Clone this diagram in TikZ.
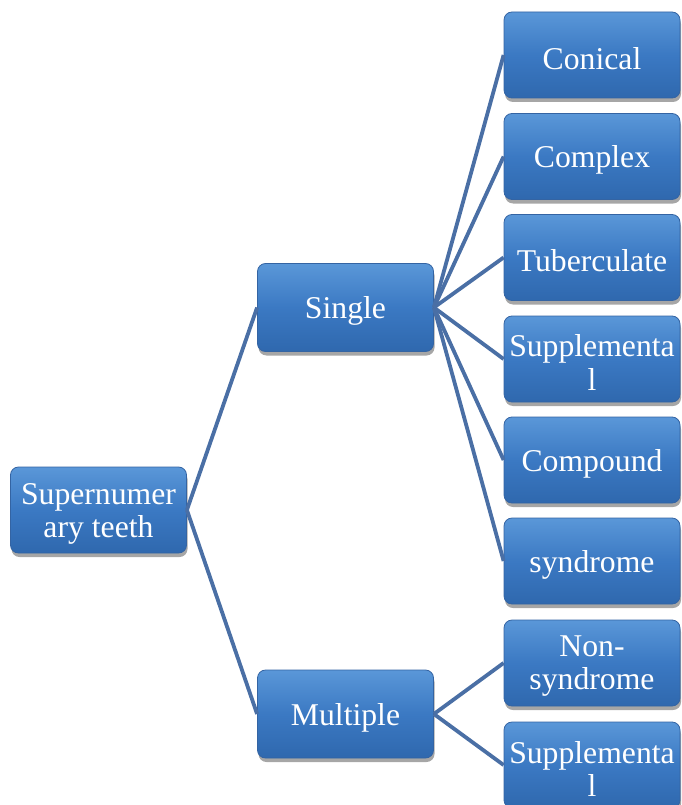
\documentclass[tikz,border=0pt]{standalone}
\usepackage{fontspec}
\setmainfont{Liberation Serif}
\usetikzlibrary{shadows}
\definecolor{boxtop}{HTML}{5A97D8}
\definecolor{boxmid}{HTML}{3B79C3}
\definecolor{boxbot}{HTML}{2F68AE}
\definecolor{boxline}{HTML}{3464A3}
\definecolor{conn}{HTML}{4A6FA5}
\tikzset{
  lbl/.style={text=white, align=center, inner sep=0pt, yshift=-3.5pt,
    font=\fontsize{31.7}{33}\selectfont},
  tbox/.style={rounded corners=8pt, draw=boxline, line width=0.8pt,
    top color=boxtop, bottom color=boxbot, middle color=boxmid,
    drop shadow={shadow xshift=1pt, shadow yshift=-4pt, opacity=0.35, fill=black},
    minimum width=176pt, minimum height=86pt, inner sep=0pt,
    label={[lbl]center:#1}},
  mbox/.style={tbox=#1, minimum height=88pt},
  link/.style={draw=conn, line width=3.8pt}
}
\begin{document}
\begin{tikzpicture}[x=1pt,y=-1pt]
\useasboundingbox (0,0) rectangle (681,805);
\clip (0,0) rectangle (681,805);
\node[tbox={Supernumer\\ary teeth}] (root) at (98.5,510) {};
\node[mbox={Single}] (single) at (345.5,307.5) {};
\node[mbox={Multiple}] (multiple) at (345.5,714) {};
\node[tbox={Conical}] (c1) at (592,55) {};
\node[tbox={Complex}] (c2) at (592,156.5) {};
\node[tbox={Tuberculate}] (c3) at (592,257.5) {};
\node[tbox={Supplementa\\l}] (c4) at (592,359) {};
\node[tbox={Compound}] (c5) at (592,460) {};
\node[tbox={syndrome}] (c6) at (592,561) {};
\node[tbox={Non-\\syndrome}] (c7) at (592,663) {};
\node[tbox={Supplementa\\l}] (c8) at (592,765) {};
\foreach \c in {c1,c2,c3,c4,c5,c6}{\draw[link] (single.east) -- (\c.west);}
\foreach \c in {c7,c8}{\draw[link] (multiple.east) -- (\c.west);}
\draw[link] (root.east) -- (single.west);
\draw[link] (root.east) -- (multiple.west);
\end{tikzpicture}
\end{document}
